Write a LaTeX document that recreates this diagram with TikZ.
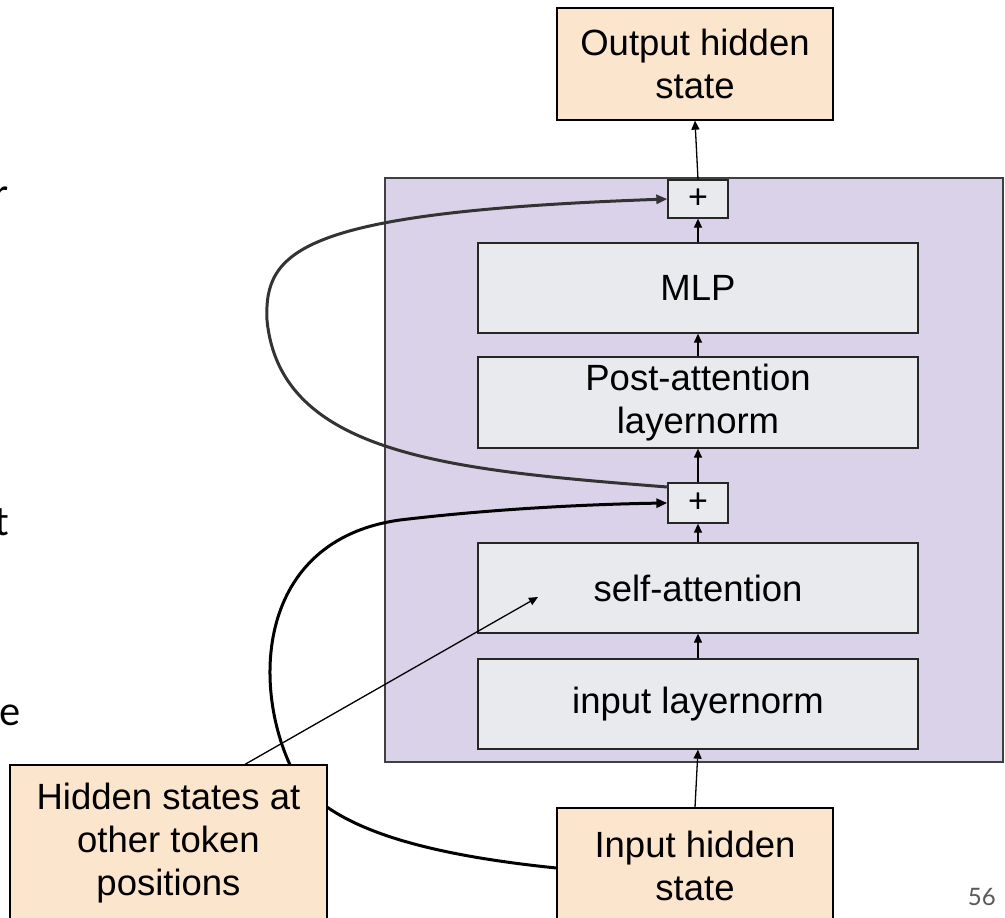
\documentclass[tikz,border=0pt]{standalone}
\usepackage{fontspec}
\setmainfont{Liberation Sans}
\newfontfamily\latofont{Lato}
\usetikzlibrary{arrows.meta}
\definecolor{peach}{HTML}{FCE5CD}
\definecolor{lav}{HTML}{D9D2E9}
\definecolor{boxgray}{HTML}{E8EAED}
\definecolor{pagegray}{HTML}{595959}
\definecolor{loopgray}{HTML}{333333}
\begin{document}
\begin{tikzpicture}[x=1pt,y=-1pt,
  peachbox/.style={draw=black, line width=1.3pt, fill=peach, align=center, inner sep=0pt, font=\fontsize{36.5}{43}\selectfont},
  graybox/.style={draw=black!85, line width=1.3pt, fill=boxgray, align=center, inner sep=0pt, minimum width=440pt, font=\fontsize{36.5}{43}\selectfont},
  plusbox/.style={draw=black!85, line width=1.3pt, fill=boxgray, inner sep=0pt, minimum width=60pt, font=\fontsize{34}{36}\selectfont},
  arr/.style={line width=1.3pt, -{Triangle[length=9pt,width=8pt]}},
  loopline/.style={line width=3pt, line cap=round, -{Triangle[length=11pt,width=9pt]}},
  frag/.style={anchor=base east, inner sep=0pt, font=\latofont\fontsize{40}{48}\selectfont}]
\useasboundingbox (0,0) rectangle (1005,918);
\clip (0,0) rectangle (1005,918);
\fill[white] (0,0) rectangle (1005,918);

% fragments of slide text (cut off at the left edge, as in the reference)
\node[frag] (fr) at (8,207) {r};
\node[frag] (ft) at (9,535) {t};
\node[frag] (fe) at (21,725) {e};

% layer background
\node[draw=black!75, line width=1.2pt, fill=lav, minimum width=618pt, minimum height=584pt, inner sep=0pt] (layer) at (694,470) {};

% nodes
\node[peachbox, minimum width=276pt, minimum height=112pt] (out) at (695,64) {Output hidden\\state};
\node[plusbox, minimum height=38pt] (plusA) at (698,199) {+};
\node[graybox, minimum height=90pt] (mlp) at (698,288) {MLP};
\node[graybox, minimum height=91pt] (post) at (698,402.5) {Post-attention\\layernorm};
\node[plusbox, minimum height=40pt] (plusB) at (698,503) {+};
\node[graybox, minimum height=90pt] (sa) at (698,588) {self-attention};
\node[graybox, minimum height=90pt] (il) at (698,704) {input layernorm};
\node[peachbox, minimum width=276pt, minimum height=115pt] (ihs) at (695,865.5) {Input hidden\\state};

% vertical arrows
\draw[arr] (ihs.north) -- (il.south);
\draw[arr] (il.north) -- (sa.south);
\draw[arr] (sa.north) -- (plusB.south);
\draw[arr] (plusB.north) -- (post.south);
\draw[arr] (post.north) -- (mlp.south);
\draw[arr] (mlp.north) -- (plusA.south);
\draw[arr] (plusA.north) -- (out.south);

% residual loop around attention output
\draw[loopline, draw=loopgray] ([yshift=16pt]plusB.west) .. controls (450,470) and (280,455) .. (267,320)
  .. controls (264,250) and (300,212) .. (plusA.west);

% residual from input hidden state (drawn under the left box)
\draw[loopline, draw=black] ([yshift=-2.5pt]ihs.west) .. controls (430,855) and (330,830) .. (295,775)
  .. controls (250,690) and (255,540) .. (400,520)
  .. controls (500,508) and (600,504) .. (plusB.west);

% thin arrow into self-attention
\coordinate (saIn) at (538,597);
\node[peachbox, minimum width=317pt, minimum height=156pt] (hs) at (168.5,843) {Hidden states at\\other token\\positions};
\draw[arr] ([xshift=76.5pt]hs.north) -- (saIn);

% page number
\node[anchor=base east, inner sep=0pt, text=pagegray, font=\latofont\fontsize{24}{28}\selectfont] (pg) at (996,905) {56};
\end{tikzpicture}
\end{document}
